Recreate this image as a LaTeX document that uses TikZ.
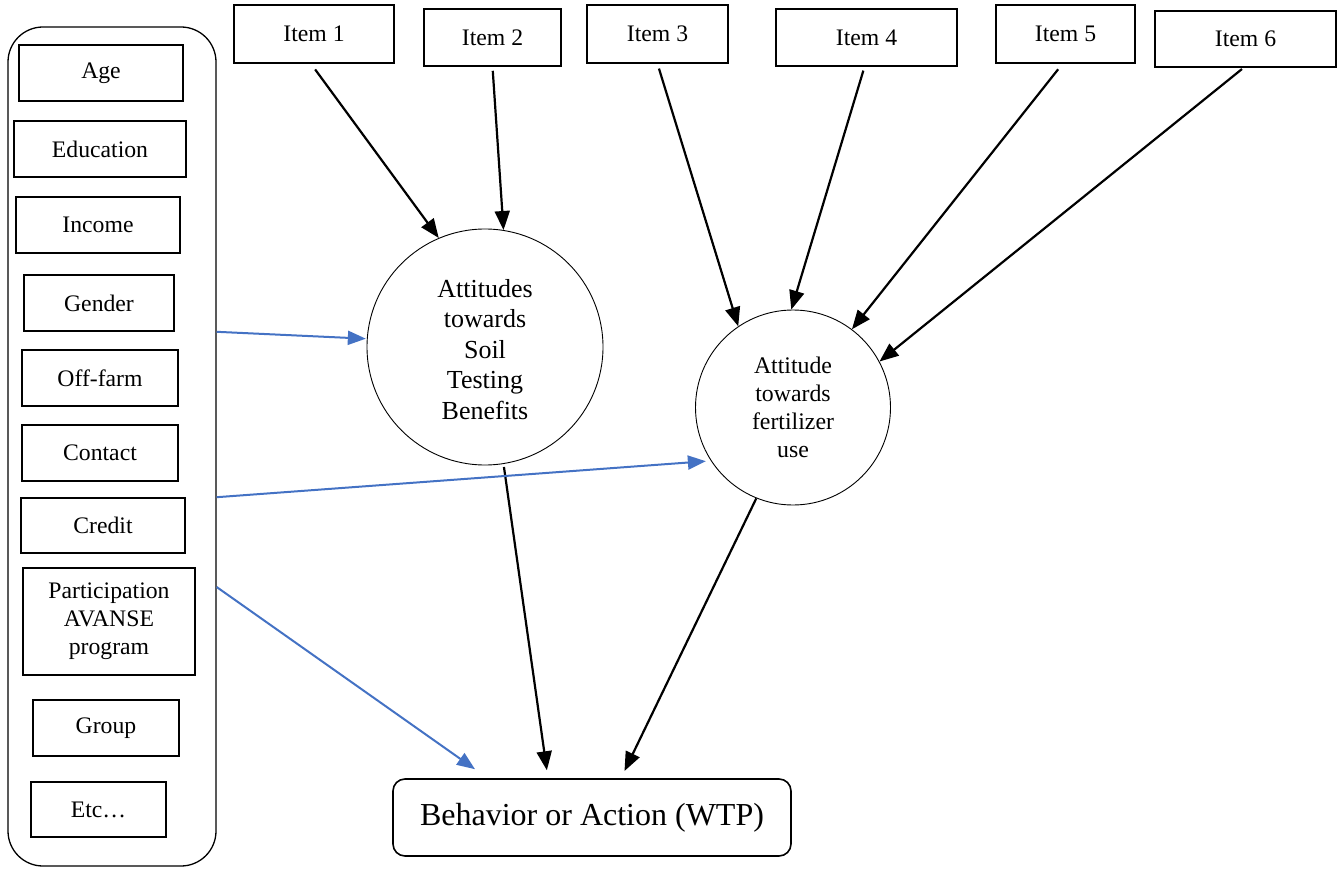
\documentclass[tikz,border=0pt]{standalone}
\usepackage{fontspec}
\setmainfont{Liberation Serif}
\usetikzlibrary{arrows.meta}
\definecolor{oblue}{RGB}{68,114,196}
\begin{document}
\begin{tikzpicture}[x=1pt,y=-1pt,
  vbox/.style={draw,line width=1.6pt,inner sep=0pt,align=center,font=\fontsize{23.7}{28}\selectfont},
  circ/.style={draw,circle,line width=0.9pt,inner sep=0pt,align=center},
  arr/.style={line width=2.2pt,-{Triangle[length=19pt,width=15pt]}},
  barr/.style={line width=2pt,oblue,-{Triangle[length=18pt,width=14pt]}}]
\useasboundingbox (0,0) rectangle (1338,869);
% left container
\node[draw,line width=1.3pt,rounded corners=35pt,minimum width=208pt,minimum height=839pt,inner sep=0pt] (left) at (112,446.5) {};
\node[vbox,minimum width=164pt,minimum height=56pt] (age) at (101,73) {Age};
\node[vbox,minimum width=172pt,minimum height=56pt] (edu) at (100,149) {Education};
\node[vbox,minimum width=164pt,minimum height=56pt] (inc) at (98,225) {Income};
\node[vbox,minimum width=150pt,minimum height=56pt] (gen) at (99,303) {Gender};
\node[vbox,minimum width=156pt,minimum height=56pt] (off) at (100,378) {Off-farm};
\node[vbox,minimum width=156pt,minimum height=56pt] (con) at (100,453) {Contact};
\node[vbox,minimum width=164pt,minimum height=55pt] (cre) at (103,525.5) {Credit};
\node[vbox,minimum width=172pt,minimum height=107pt] (par) at (109,621.5) {Participation\\AVANSE\\program};
\node[vbox,minimum width=146pt,minimum height=56pt] (grp) at (106,728) {Group};
\node[vbox,minimum width=135pt,minimum height=55pt] (etc) at (98.5,809.5) {Etc…};
% items
\node[vbox,minimum width=160pt,minimum height=58pt] (i1) at (314,34) {Item 1};
\node[vbox,minimum width=137pt,minimum height=57pt] (i2) at (492.5,37.5) {Item 2};
\node[vbox,minimum width=141pt,minimum height=58pt] (i3) at (657.5,34) {Item 3};
\node[vbox,minimum width=181pt,minimum height=57pt] (i4) at (866.5,37.5) {Item 4};
\node[vbox,minimum width=139pt,minimum height=58pt] (i5) at (1065.5,34) {Item 5};
\node[vbox,minimum width=181pt,minimum height=56pt] (i6) at (1245.5,39) {Item 6};
% circles
\node[circ,minimum size=236pt,font=\fontsize{26}{30.5}\selectfont] (att1) at (485,347) {\raisebox{-11.5pt}[0pt][0pt]{\begin{tabular}{@{}c@{}}Attitudes\\towards\\Soil\\Testing\\Benefits\end{tabular}}};
\node[circ,minimum size=195pt,font=\fontsize{23.8}{28}\selectfont] (att2) at (793,407.5) {Attitude\\towards\\fertilizer\\use};
% behavior
\node[draw,line width=1.6pt,rounded corners=12pt,minimum width=398pt,minimum height=77pt,inner sep=0pt,font=\fontsize{32}{38}\selectfont] (beh) at (592,817.5) {Behavior or Action (WTP)};
% black arrows
\draw[arr,shorten <=7pt] ([xshift=-3pt]i1.south) -- (att1.113);
\draw[arr,shorten <=4pt] (i2.south) -- (att1.81);
\draw[arr,shorten <=5pt] (i3.south) -- (att2.124);
\draw[arr,shorten <=4pt] ([xshift=-2pt]i4.south) -- (att2.91);
\draw[arr,shorten <=7pt] ([xshift=-3pt]i5.south) -- (att2.53);
\draw[arr,shorten <=2pt] ([xshift=-2pt]i6.south) -- (att2.28);
\draw[arr,shorten <=3pt,shorten >=8pt] (att1.-81.5) -- ([xshift=-44pt]beh.north);
\draw[arr,shorten >=8pt] (att2.-112.6) -- ([xshift=29pt]beh.north);
% blue arrows
\draw[barr,shorten >=1pt] (left.east |- gen.south) -- (att1.176);
\draw[barr,shorten >=5pt] (left.east |- cre.north) -- (att2.213.5);
\draw[barr] ([yshift=-140.5pt]left.east) -- ([xshift=-117pt,yshift=9pt]beh.north);
\end{tikzpicture}
\end{document}
